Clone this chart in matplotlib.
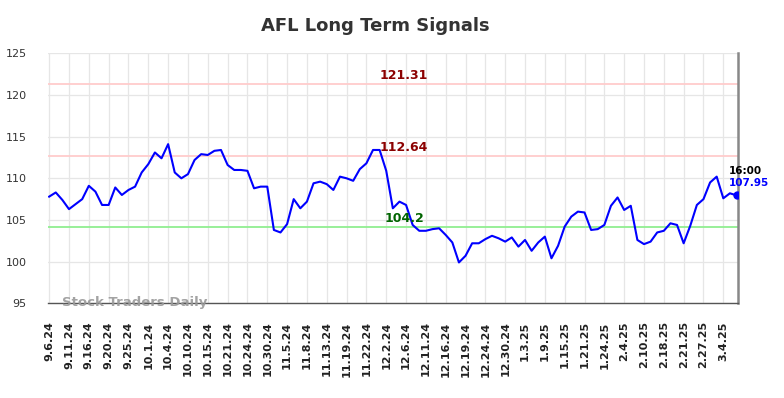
import numpy as np
import matplotlib
matplotlib.use('Agg')
import matplotlib.pyplot as plt

# closing prices (one per trading day)
prices = [107.8, 108.3, 107.4, 106.3, 106.9, 107.5, 109.1, 108.4, 106.8, 106.8,
          108.9, 108.0, 108.6, 109.0, 110.7, 111.7, 113.1, 112.4, 114.1, 110.7,
          110.0, 110.5, 112.2, 112.9, 112.8, 113.3, 113.4, 111.6, 111.0, 111.0,
          110.9, 108.8, 109.0, 109.0, 103.8, 103.5, 104.5, 107.5, 106.4, 107.2,
          109.4, 109.6, 109.3, 108.6, 110.2, 110.0, 109.7, 111.1, 111.8, 113.4,
          113.4, 110.9, 106.4, 107.2, 106.8, 104.4, 103.7, 103.7, 103.9, 104.0,
          103.2, 102.3, 99.9, 100.7, 102.2, 102.2, 102.7, 103.1, 102.8, 102.4,
          102.9, 101.8, 102.6, 101.3, 102.3, 103.0, 100.4, 101.9, 104.2, 105.4,
          106.0, 105.9, 103.8, 103.9, 104.4, 106.7, 107.7, 106.2, 106.7, 102.6,
          102.1, 102.4, 103.5, 103.7, 104.6, 104.4, 102.2, 104.3, 106.8, 107.5,
          109.5, 110.2, 107.6, 108.2, 107.95]

tick_labels = ['9.6.24', '9.11.24', '9.16.24', '9.20.24', '9.25.24', '10.1.24',
               '10.4.24', '10.10.24', '10.15.24', '10.21.24', '10.24.24', '10.30.24',
               '11.5.24', '11.8.24', '11.13.24', '11.19.24', '11.22.24', '12.2.24',
               '12.6.24', '12.11.24', '12.16.24', '12.19.24', '12.24.24', '12.30.24',
               '1.3.25', '1.9.25', '1.15.25', '1.21.25', '1.24.25', '2.4.25',
               '2.10.25', '2.18.25', '2.21.25', '2.27.25', '3.4.25']

resistance = [121.31, 112.64]
support = [104.2]
last_time = '16:00'

fig = plt.figure(figsize=(7.84, 3.98), dpi=100)
ax = fig.add_axes([0.0606, 0.238, 0.8801, 0.628])

x = np.arange(len(prices))
ax.plot(x, prices, color='#0000ff', lw=1.5, zorder=3)
ax.plot(x[-1], prices[-1], 'o', color='#0000ff', ms=5, zorder=4)

label_x = 53.7
for lvl in resistance:
    ax.axhline(lvl, color='#ffcccc', lw=1.3, zorder=2)
    ax.text(label_x, lvl + 1.0, str(lvl), color='#8b0000', fontsize=9,
            fontweight='bold', ha='center', va='center', zorder=5)
for lvl in support:
    ax.axhline(lvl, color='#90ee90', lw=1.3, zorder=2)
    ax.text(label_x, lvl + 1.0, str(lvl), color='#006400', fontsize=9,
            fontweight='bold', ha='center', va='center', zorder=5)

ax.text(x[-1] - 1.2, prices[-1] + 2.95, last_time, color='black', fontsize=7.5,
        fontweight='bold', ha='left', va='center', zorder=5)
ax.text(x[-1] - 1.2, prices[-1] + 1.45, '%.2f' % prices[-1], color='#0000ff',
        fontsize=7.5, fontweight='bold', ha='left', va='center', zorder=5)

ax.set_xlim(-0.25, 104.15)
ax.set_ylim(95, 125)
ax.set_yticks(np.arange(95, 126, 5))
ax.set_xticks(x[::3])
ax.set_xticklabels(tick_labels, rotation=90, fontsize=8, fontweight='bold', color='#222222')
ax.tick_params(axis='x', length=0, pad=13)
ax.tick_params(axis='y', length=0, pad=15, labelsize=8, labelcolor='#333333')

ax.grid(True, color='#e6e6e6', lw=0.9, zorder=0)
ax.set_axisbelow(True)
for s in ['left', 'top']:
    ax.spines[s].set_visible(False)
ax.spines['bottom'].set_color('#555555')
ax.spines['bottom'].set_linewidth(1.0)
ax.spines['right'].set_color('#888888')
ax.spines['right'].set_linewidth(1.8)

ax.text(0.0217, 0.005, 'Stock Traders Daily', transform=ax.transAxes, color='#999999',
        fontsize=9.5, fontweight='bold', ha='left', va='center', alpha=0.9, zorder=6)

fig.text(375 / 784, 0.935, 'AFL Long Term Signals', fontsize=13, fontweight='bold',
         color='#333333', ha='center', va='center')

fig.savefig('out.png', dpi=100)
